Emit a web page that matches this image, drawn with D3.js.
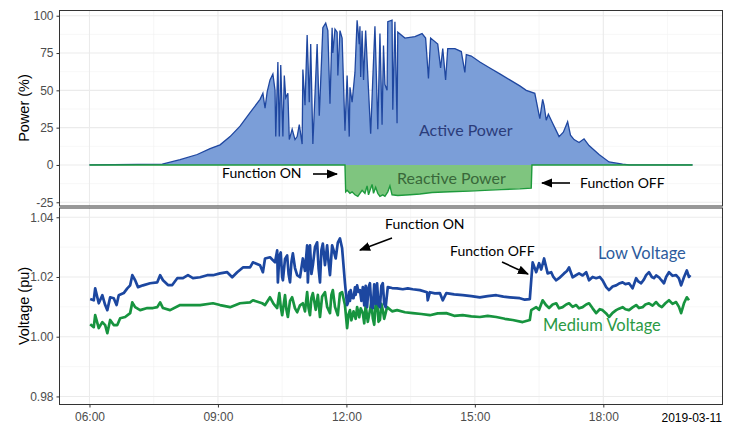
<!DOCTYPE html>
<html>
<head>
<meta charset="utf-8">
<script src="https://cdn.jsdelivr.net/npm/d3@7"></script>
<style>
body { margin: 0; background: #fff; }
svg { display: block; font-family: "Liberation Sans", Arial, sans-serif; }
.tick text { fill: #4d4d4d; font-size: 12px; }
.tick line { stroke: #333; }
.note { font-family: Lato, "Open Sans", sans-serif; }
</style>
</head>
<body>
<svg width="735" height="425"></svg>
<script>
const day = "2019-03-11";

// [time, % of rated power]
const activePower = [
    ["06:00", 0], ["07:42", 0.5], ["08:07", 3.5], ["08:31", 7], ["08:49", 11], ["09:03", 13.5],
    ["09:17", 19], ["09:31", 26], ["09:45", 35], ["09:59", 44], ["10:03", 48], ["10:06", 38],
    ["10:09", 49], ["10:13", 57], ["10:17", 61], ["10:20", 50], ["10:21", 19], ["10:24", 69],
    ["10:26", 19], ["10:28", 67], ["10:31", 19], ["10:33", 60], ["10:35", 45], ["10:38", 48],
    ["10:40", 17], ["10:44", 24], ["10:48", 17], ["10:51", 19], ["10:54", 27], ["10:58", 14],
    ["10:59", 64], ["11:02", 40], ["11:05", 87], ["11:08", 42], ["11:10", 81], ["11:13", 14],
    ["11:16", 47], ["11:19", 81], ["11:22", 33], ["11:24", 56], ["11:27", 92], ["11:31", 95],
    ["11:34", 90], ["11:37", 41], ["11:40", 92], ["11:41", 75], ["11:44", 91], ["11:47", 89],
    ["11:48", 60], ["11:51", 90], ["11:54", 85], ["11:58", 23], ["12:01", 60], ["12:04", 19],
    ["12:05", 52], ["12:08", 42], ["12:12", 62], ["12:15", 97], ["12:18", 81], ["12:19", 93],
    ["12:20", 59], ["12:22", 90], ["12:24", 57], ["12:27", 90], ["12:31", 50], ["12:34", 21],
    ["12:37", 58], ["12:40", 93], ["12:42", 60], ["12:44", 24], ["12:47", 88], ["12:50", 27],
    ["12:52", 80], ["12:54", 54], ["12:57", 50], ["12:58", 96], ["13:04", 97], ["13:05", 37],
    ["13:08", 96], ["13:11", 28], ["13:12", 89], ["13:22", 85], ["13:36", 86], ["13:46", 88],
    ["13:51", 85], ["13:55", 58], ["13:58", 85], ["14:08", 81], ["14:12", 65], ["14:15", 78],
    ["14:19", 57], ["14:22", 78], ["14:32", 78], ["14:41", 76], ["14:46", 62], ["14:48", 74],
    ["14:55", 73], ["15:07", 69], ["15:21", 65], ["15:35", 61], ["15:49", 57], ["16:03", 53],
    ["16:12", 50], ["16:24", 48], ["16:31", 31], ["16:35", 44], ["16:37", 40], ["16:40", 30],
    ["16:43", 34], ["16:49", 28], ["16:53", 24], ["16:58", 19], ["17:04", 22], ["17:10", 29],
    ["17:14", 20], ["17:19", 17], ["17:26", 15], ["17:33", 17.5], ["17:40", 13], ["17:54", 7],
    ["18:08", 2], ["18:27", 0.5], ["18:36", 0], ["20:05", 0]
];

const reactivePower = [
    ["06:00", 0], ["11:58", 0], ["11:59", -18], ["12:01", -17], ["12:05", -19], ["12:08", -18],
    ["12:12", -20], ["12:16", -21], ["12:22", -17], ["12:26", -19], ["12:29", -14], ["12:31", -20],
    ["12:36", -13], ["12:38", -19], ["12:41", -15], ["12:44", -19], ["12:47", -21], ["12:51", -20],
    ["12:54", -21], ["12:58", -18], ["13:01", -14], ["13:04", -20], ["13:12", -20.5], ["13:29", -20],
    ["13:43", -19.5], ["14:00", -18.5], ["14:25", -18], ["14:53", -17.5], ["15:14", -17],
    ["15:37", -16.5], ["16:03", -16], ["16:19", -15.5], ["16:20", 0], ["20:05", 0]
];

// [time, pu]
const lowVoltage = [
    ["06:01", 1.0126], ["06:06", 1.0122], ["06:08", 1.0162], ["06:13", 1.0112], ["06:18", 1.0139],
    ["06:22", 1.0106], ["06:25", 1.0089], ["06:29", 1.0132], ["06:34", 1.0129], ["06:38", 1.0106],
    ["06:41", 1.0139], ["06:48", 1.0146], ["06:53", 1.0162], ["06:57", 1.0172], ["07:00", 1.0206],
    ["07:04", 1.0189], ["07:08", 1.0166], ["07:15", 1.0172], ["07:25", 1.0179], ["07:35", 1.0182],
    ["07:39", 1.0206], ["07:43", 1.0189], ["07:50", 1.0173], ["07:56", 1.0173], ["08:03", 1.0196],
    ["08:11", 1.0196], ["08:18", 1.0206], ["08:25", 1.0196], ["08:35", 1.0199], ["08:45", 1.0206],
    ["08:53", 1.0206], ["09:03", 1.0212], ["09:13", 1.0216], ["09:20", 1.0199], ["09:27", 1.0216],
    ["09:35", 1.0232], ["09:45", 1.0232], ["09:49", 1.0249], ["09:59", 1.0239], ["10:03", 1.0216],
    ["10:06", 1.0262], ["10:13", 1.0266], ["10:20", 1.0249], ["10:23", 1.0289], ["10:24", 1.0182],
    ["10:26", 1.0270], ["10:28", 1.0282], ["10:30", 1.0200], ["10:31", 1.0189], ["10:34", 1.0260],
    ["10:37", 1.0272], ["10:39", 1.0210], ["10:41", 1.0182], ["10:43", 1.0250], ["10:45", 1.0279],
    ["10:48", 1.0230], ["10:51", 1.0206], ["10:55", 1.0199], ["10:59", 1.0262], ["11:02", 1.0220],
    ["11:05", 1.0306], ["11:06", 1.0182], ["11:08", 1.0280], ["11:09", 1.0306], ["11:11", 1.0210],
    ["11:13", 1.0239], ["11:16", 1.0300], ["11:19", 1.0316], ["11:21", 1.0230], ["11:23", 1.0182],
    ["11:25", 1.0290], ["11:27", 1.0312], ["11:30", 1.0240], ["11:33", 1.0306], ["11:35", 1.0250],
    ["11:37", 1.0206], ["11:40", 1.0306], ["11:42", 1.0290], ["11:45", 1.0262], ["11:48", 1.0315],
    ["11:51", 1.0329], ["11:54", 1.0296], ["11:58", 1.0179], ["12:01", 1.0106], ["12:02", 1.0112],
    ["12:04", 1.0150], ["12:05", 1.0120], ["12:06", 1.0156], ["12:08", 1.0130], ["12:10", 1.0129],
    ["12:12", 1.0165], ["12:13", 1.0140], ["12:15", 1.0172], ["12:17", 1.0150], ["12:19", 1.0156],
    ["12:21", 1.0120], ["12:23", 1.0166], ["12:25", 1.0105], ["12:27", 1.0170], ["12:29", 1.0099],
    ["12:31", 1.0165], ["12:33", 1.0179], ["12:35", 1.0100], ["12:37", 1.0096], ["12:39", 1.0175],
    ["12:41", 1.0110], ["12:43", 1.0179], ["12:45", 1.0105], ["12:47", 1.0099], ["12:49", 1.0170],
    ["12:51", 1.0179], ["12:53", 1.0110], ["12:55", 1.0099], ["12:58", 1.0166], ["13:04", 1.0163],
    ["13:11", 1.0162], ["13:19", 1.0159], ["13:26", 1.0162], ["13:33", 1.0159], ["13:43", 1.0156],
    ["13:53", 1.0149], ["13:54", 1.0122], ["13:57", 1.0149], ["14:04", 1.0145], ["14:11", 1.0146],
    ["14:15", 1.0122], ["14:20", 1.0146], ["14:31", 1.0142], ["14:43", 1.0139], ["14:55", 1.0136],
    ["15:07", 1.0132], ["15:18", 1.0136], ["15:30", 1.0139], ["15:40", 1.0134], ["15:49", 1.0132],
    ["16:03", 1.0129], ["16:10", 1.0124], ["16:17", 1.0126], ["16:19", 1.0189], ["16:21", 1.0249],
    ["16:26", 1.0216], ["16:30", 1.0246], ["16:33", 1.0225], ["16:37", 1.0262], ["16:42", 1.0212],
    ["16:47", 1.0216], ["16:50", 1.0200], ["16:54", 1.0189], ["16:58", 1.0196], ["17:05", 1.0212],
    ["17:09", 1.0220], ["17:12", 1.0232], ["17:17", 1.0199], ["17:21", 1.0205], ["17:26", 1.0212],
    ["17:31", 1.0205], ["17:36", 1.0216], ["17:40", 1.0189], ["17:45", 1.0200], ["17:50", 1.0196],
    ["17:55", 1.0200], ["17:59", 1.0189], ["18:04", 1.0166], ["18:08", 1.0156], ["18:13", 1.0168],
    ["18:18", 1.0172], ["18:22", 1.0178], ["18:27", 1.0182], ["18:31", 1.0176], ["18:36", 1.0179],
    ["18:41", 1.0162], ["18:46", 1.0196], ["18:49", 1.0185], ["18:53", 1.0179], ["18:57", 1.0192],
    ["19:00", 1.0206], ["19:04", 1.0216], ["19:08", 1.0200], ["19:11", 1.0196], ["19:14", 1.0205],
    ["19:18", 1.0199], ["19:21", 1.0190], ["19:25", 1.0179], ["19:28", 1.0200], ["19:32", 1.0216],
    ["19:37", 1.0204], ["19:42", 1.0206], ["19:46", 1.0195], ["19:49", 1.0172], ["19:53", 1.0199],
    ["19:57", 1.0222], ["20:00", 1.0200], ["20:02", 1.0206]
];

const mediumVoltage = [
    ["06:01", 1.0042], ["06:06", 1.0032], ["06:08", 1.0072], ["06:13", 1.0029], ["06:18", 1.0049],
    ["06:22", 1.0039], ["06:25", 1.0012], ["06:29", 1.0056], ["06:34", 1.0039], ["06:39", 1.0039],
    ["06:43", 1.0062], ["06:50", 1.0066], ["06:57", 1.0079], ["07:00", 1.0115], ["07:04", 1.0099],
    ["07:11", 1.0089], ["07:21", 1.0096], ["07:29", 1.0096], ["07:35", 1.0099], ["07:39", 1.0115],
    ["07:43", 1.0096], ["07:53", 1.0089], ["08:07", 1.0106], ["08:21", 1.0106], ["08:35", 1.0106],
    ["08:53", 1.0112], ["09:03", 1.0106], ["09:17", 1.0099], ["09:31", 1.0112], ["09:45", 1.0115],
    ["09:49", 1.0122], ["10:02", 1.0112], ["10:06", 1.0106], ["10:13", 1.0132], ["10:18", 1.0110],
    ["10:23", 1.0096], ["10:26", 1.0146], ["10:28", 1.0100], ["10:30", 1.0072], ["10:34", 1.0139],
    ["10:36", 1.0090], ["10:38", 1.0066], ["10:41", 1.0120], ["10:44", 1.0132], ["10:48", 1.0095],
    ["10:51", 1.0082], ["10:55", 1.0105], ["10:59", 1.0112], ["11:02", 1.0085], ["11:05", 1.0149],
    ["11:07", 1.0095], ["11:09", 1.0072], ["11:11", 1.0130], ["11:13", 1.0146], ["11:17", 1.0090],
    ["11:20", 1.0140], ["11:23", 1.0066], ["11:26", 1.0135], ["11:30", 1.0149], ["11:33", 1.0100],
    ["11:37", 1.0079], ["11:39", 1.0140], ["11:41", 1.0156], ["11:44", 1.0100], ["11:48", 1.0072],
    ["11:51", 1.0145], ["11:54", 1.0149], ["11:58", 1.0106], ["12:01", 1.0029], ["12:03", 1.0075],
    ["12:05", 1.0089], ["12:07", 1.0055], ["12:10", 1.0085], ["12:13", 1.0060], ["12:15", 1.0099],
    ["12:18", 1.0065], ["12:20", 1.0095], ["12:23", 1.0079], ["12:25", 1.0045], ["12:27", 1.0105],
    ["12:30", 1.0050], ["12:33", 1.0089], ["12:35", 1.0115], ["12:37", 1.0062], ["12:39", 1.0040],
    ["12:41", 1.0110], ["12:43", 1.0122], ["12:45", 1.0050], ["12:47", 1.0056], ["12:49", 1.0110],
    ["12:51", 1.0089], ["12:53", 1.0060], ["12:57", 1.0099], ["13:04", 1.0085], ["13:11", 1.0089],
    ["13:22", 1.0082], ["13:33", 1.0079], ["13:45", 1.0076], ["13:57", 1.0072], ["14:08", 1.0078],
    ["14:20", 1.0079], ["14:31", 1.0070], ["14:43", 1.0072], ["14:55", 1.0068], ["15:07", 1.0066],
    ["15:18", 1.0070], ["15:30", 1.0066], ["15:42", 1.0060], ["15:53", 1.0056], ["16:07", 1.0049],
    ["16:17", 1.0056], ["16:19", 1.0089], ["16:26", 1.0099], ["16:30", 1.0090], ["16:35", 1.0122],
    ["16:40", 1.0105], ["16:44", 1.0096], ["16:49", 1.0108], ["16:54", 1.0112], ["16:58", 1.0095],
    ["17:03", 1.0099], ["17:08", 1.0108], ["17:12", 1.0112], ["17:17", 1.0100], ["17:22", 1.0106],
    ["17:26", 1.0095], ["17:31", 1.0099], ["17:36", 1.0108], ["17:40", 1.0112], ["17:45", 1.0095],
    ["17:50", 1.0079], ["17:55", 1.0092], ["17:59", 1.0089], ["18:04", 1.0078], ["18:08", 1.0066],
    ["18:13", 1.0080], ["18:18", 1.0089], ["18:22", 1.0094], ["18:27", 1.0099], ["18:31", 1.0092],
    ["18:36", 1.0089], ["18:41", 1.0098], ["18:46", 1.0106], ["18:50", 1.0096], ["18:55", 1.0099],
    ["18:59", 1.0108], ["19:04", 1.0112], ["19:09", 1.0104], ["19:14", 1.0116], ["19:18", 1.0105],
    ["19:22", 1.0099], ["19:27", 1.0112], ["19:32", 1.0122], ["19:37", 1.0110], ["19:42", 1.0116],
    ["19:46", 1.0100], ["19:49", 1.0079], ["19:53", 1.0112], ["19:57", 1.0132], ["20:00", 1.0122]
];

const majorHours = ["06:00", "09:00", "12:00", "15:00", "18:00"];
const minorHours = ["07:30", "10:30", "13:30", "16:30", "19:30"];
const powerTicks = [-25, 0, 25, 50, 75, 100];
const powerMinor = [-12.5, 12.5, 37.5, 62.5, 87.5];
const voltTicks = [0.98, 1.00, 1.02, 1.04];
const voltMinor = [0.99, 1.01, 1.03];

const parseTime = d3.timeParse("%Y-%m-%d %H:%M");
const toDate = t => parseTime(day + " " + t);

var svg = d3.select("svg");
var left = 59.5, right = 722.5;

var x = d3.scaleTime()
    .domain([toDate("05:18"), toDate("20:47")])
    .range([left, right]);

var yP = d3.scaleLinear().domain([-27.5, 103.5]).range([206, 10.5]);
var yV = d3.scaleLinear().domain([0.9773, 1.0431]).range([404.5, 208]);

const panel = (y, major, minor) => {
    var g = svg.append("g");
    var [y0, y1] = y.range();
    g.selectAll(".hminor").data(minor).enter().append("line")
        .attr("x1", left).attr("x2", right)
        .attr("y1", d => y(d)).attr("y2", d => y(d))
        .attr("stroke", "#f2f2f2").attr("stroke-width", 0.6);
    g.selectAll(".vminor").data(minorHours).enter().append("line")
        .attr("x1", d => x(toDate(d))).attr("x2", d => x(toDate(d)))
        .attr("y1", y0).attr("y2", y1)
        .attr("stroke", "#f2f2f2").attr("stroke-width", 0.6);
    g.selectAll(".hmajor").data(major).enter().append("line")
        .attr("x1", left).attr("x2", right)
        .attr("y1", d => y(d)).attr("y2", d => y(d))
        .attr("stroke", "#ebebeb").attr("stroke-width", 1.1);
    g.selectAll(".vmajor").data(majorHours).enter().append("line")
        .attr("x1", d => x(toDate(d))).attr("x2", d => x(toDate(d)))
        .attr("y1", y0).attr("y2", y1)
        .attr("stroke", "#ebebeb").attr("stroke-width", 1.1);
    return g;
};

const border = y => {
    var [y0, y1] = y.range();
    svg.append("rect")
        .attr("x", left).attr("y", y1)
        .attr("width", right - left).attr("height", y0 - y1)
        .attr("fill", "none").attr("stroke", "#333").attr("stroke-width", 1);
};

// top panel: power
var powerPanel = panel(yP, powerTicks, powerMinor);

var area = d3.area()
    .x(d => x(toDate(d[0])))
    .y0(yP(0))
    .y1(d => yP(d[1]));
var line = d3.line()
    .x(d => x(toDate(d[0])))
    .y(d => yP(d[1]));

powerPanel.append("path").attr("d", area(activePower))
    .attr("fill", "#7b9ed8");
powerPanel.append("path").attr("d", line(activePower))
    .attr("fill", "none").attr("stroke", "#1f47a0").attr("stroke-width", 1.3);
powerPanel.append("path").attr("d", area(reactivePower))
    .attr("fill", "#7fc57f");
powerPanel.append("path").attr("d", line(reactivePower))
    .attr("fill", "none").attr("stroke", "#1e9a3c").attr("stroke-width", 1.4);

border(yP);

svg.append("g")
    .attr("transform", "translate(" + left + ",0)")
    .call(d3.axisLeft(yP).tickValues(powerTicks).tickSize(3).tickPadding(3).tickFormat(d => String(d)))
    .call(g => g.select(".domain").remove());

// bottom panel: voltage
var voltPanel = panel(yV, voltTicks, voltMinor);

var vline = d3.line()
    .x(d => x(toDate(d[0])))
    .y(d => yV(d[1]));

voltPanel.append("path").attr("d", vline(mediumVoltage))
    .attr("fill", "none").attr("stroke", "#17943f").attr("stroke-width", 2.7)
    .attr("stroke-linejoin", "round");
voltPanel.append("path").attr("d", vline(lowVoltage))
    .attr("fill", "none").attr("stroke", "#1c47a0").attr("stroke-width", 2.7)
    .attr("stroke-linejoin", "round");

border(yV);

svg.append("g")
    .attr("transform", "translate(" + left + ",0)")
    .call(d3.axisLeft(yV).tickValues(voltTicks).tickSize(3).tickPadding(3).tickFormat(d3.format(".2f")))
    .call(g => g.select(".domain").remove());

svg.append("g")
    .attr("transform", "translate(0,404.5)")
    .call(d3.axisBottom(x).tickValues(majorHours.map(toDate)).tickSize(3).tickPadding(5)
          .tickFormat(d3.timeFormat("%H:%M")))
    .call(g => g.select(".domain").remove());

// titles
svg.append("text")
    .attr("transform", "translate(29,108) rotate(-90)")
    .attr("text-anchor", "middle").attr("font-size", 14.5)
    .text("Power (%)");
svg.append("text")
    .attr("transform", "translate(29,306) rotate(-90)")
    .attr("text-anchor", "middle").attr("font-size", 14.5)
    .text("Voltage (pu)");
svg.append("text")
    .attr("x", 722).attr("y", 422)
    .attr("text-anchor", "end").attr("font-size", 12)
    .text(day);

// annotations
svg.append("defs").append("marker")
    .attr("id", "head")
    .attr("viewBox", "0 0 10 10")
    .attr("refX", 9).attr("refY", 5)
    .attr("markerWidth", 7).attr("markerHeight", 7)
    .attr("orient", "auto")
    .append("path").attr("d", "M0,1 L10,5 L0,9 z").attr("fill", "#000");

const labels = [
    {text: "Function ON", x: 222, y: 178, size: 14, color: "#000"},
    {text: "Function OFF", x: 580, y: 188, size: 14, color: "#000"},
    {text: "Active Power", x: 419, y: 136, size: 16, color: "#2b3c7a"},
    {text: "Reactive Power", x: 397, y: 184, size: 16, color: "#39683a"},
    {text: "Function ON", x: 385, y: 229, size: 14, color: "#000"},
    {text: "Function OFF", x: 450, y: 256, size: 14, color: "#000"},
    {text: "Low Voltage", x: 598, y: 259, size: 16.5, color: "#2d5b9c"},
    {text: "Medium Voltage", x: 543, y: 331, size: 16.5, color: "#2b9a45"}
];

const arrows = [
    [313, 174, 337, 174],
    [570, 183, 542, 183],
    [392, 238, 360, 250],
    [502, 262, 528, 274]
];

svg.append("g").selectAll("line")
    .data(arrows).enter()
    .append("line")
    .attr("x1", d => d[0]).attr("y1", d => d[1])
    .attr("x2", d => d[2]).attr("y2", d => d[3])
    .attr("stroke", "#000").attr("stroke-width", 1.6)
    .attr("marker-end", "url(#head)");

svg.append("g").selectAll("text")
    .data(labels).enter()
    .append("text")
    .attr("class", "note")
    .attr("x", d => d.x).attr("y", d => d.y)
    .attr("font-size", d => d.size)
    .attr("fill", d => d.color)
    .text(d => d.text);
</script>
</body>
</html>
